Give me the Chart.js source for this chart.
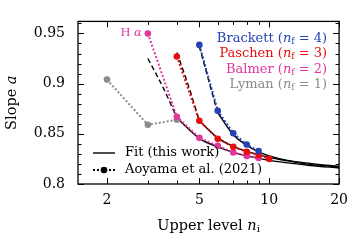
<!DOCTYPE html>
<html lang="en">
<head>
<meta charset="UTF-8">
<title>Slope a vs upper level</title>
<script src="https://cdn.jsdelivr.net/npm/chart.js"></script>
<style>
  body { margin: 0; background: #fff; }
</style>
</head>
<body>
<canvas id="slopeChart" width="356" height="240"></canvas>
<script>
// measured slopes (Aoyama et al. 2021), by upper level n_i
const lymanN = [2, 3, 4];
const lymanA = [0.904, 0.859, 0.864];
const balmerN = [3, 4, 5, 6, 7, 8, 9];
const balmerA = [0.950, 0.867, 0.846, 0.838, 0.8315, 0.828, 0.826];
const paschenN = [4, 5, 6, 7, 8, 9, 10];
const paschenA = [0.927, 0.863, 0.845, 0.837, 0.832, 0.829, 0.825];
const brackettN = [5, 6, 7, 8, 9];
const brackettA = [0.9386, 0.873, 0.8506, 0.8393, 0.8328];

// fit (this work): dashed part near n_f, solid part after
const balmerFitDashN = [3, 3.5, 4];
const balmerFitDashA = [0.925, 0.8955, 0.866];
const balmerFitN = [4, 5, 6, 7, 8, 10, 12, 15, 20];
const balmerFitA = [0.866, 0.8455, 0.837, 0.8315, 0.828, 0.8235, 0.821, 0.8185, 0.816];
const paschenFitDashN = [4, 4.5, 5];
const paschenFitDashA = [0.931, 0.897, 0.863];
const paschenFitN = [5, 6, 7, 8, 10, 12, 15, 20];
const paschenFitA = [0.863, 0.846, 0.8375, 0.8325, 0.8265, 0.823, 0.8195, 0.817];
const brackettFitDashN = [5, 5.5, 6];
const brackettFitDashA = [0.937, 0.902, 0.871];
const brackettFitN = [6, 7, 8, 9, 10, 12, 15, 20];
const brackettFitA = [0.871, 0.849, 0.8385, 0.832, 0.828, 0.8235, 0.8205, 0.8175];

const xTicks = [2, 5, 10, 20];
const xMinor = [3, 4, 6, 7, 8, 9];
const yTicks = [0.8, 0.85, 0.9, 0.95];
const yMinor = [0.81, 0.82, 0.83, 0.84, 0.86, 0.87, 0.88, 0.89, 0.91, 0.92, 0.93, 0.94, 0.96];

const seriesNames = ['Brackett', 'Paschen', 'Balmer', 'Lyman'];
const seriesNf = [4, 3, 2, 1];
const seriesColors = ['#2442b4', '#e50d0d', '#e0359a', '#8c8c8c'];

const SERIF = '"DejaVu Serif", serif';

function pts(xs, ys) {
    return xs.map((x, i) => ({ x: x, y: ys[i] }));
}

function measured(xs, ys, color) {
    return {
        data: pts(xs, ys),
        borderColor: color,
        backgroundColor: color,
        borderWidth: 2,
        borderDash: [2, 2],
        pointRadius: 3.3,
        pointBorderWidth: 0,
        tension: 0,
        order: 1
    };
}

function fit(xs, ys, dashed) {
    return {
        data: pts(xs, ys),
        borderColor: '#000',
        borderWidth: 1.4,
        borderDash: dashed ? [5, 3] : [],
        pointRadius: 0,
        cubicInterpolationMode: 'monotone',
        order: 2
    };
}

// draws text made of pieces (regular / italic / subscript)
function pieceWidth(ctx, pieces) {
    let w = 0;
    pieces.forEach(p => { ctx.font = p.f; w += ctx.measureText(p.t).width; });
    return w;
}
function drawPieces(ctx, pieces, x, y, align) {
    let cx = align === 'right' ? x - pieceWidth(ctx, pieces)
           : align === 'center' ? x - pieceWidth(ctx, pieces) / 2 : x;
    ctx.textAlign = 'left';
    pieces.forEach(p => {
        ctx.font = p.f;
        ctx.fillText(p.t, cx, y + (p.dy || 0));
        cx += ctx.measureText(p.t).width;
    });
}

const framePlugin = {
    id: 'frame',
    afterDraw(chart) {
        const ctx = chart.ctx;
        const a = chart.chartArea;
        const xs = chart.scales.x, ys = chart.scales.y;
        ctx.save();
        ctx.strokeStyle = '#000';
        ctx.lineWidth = 1.3;
        ctx.strokeRect(a.left, a.top, a.right - a.left, a.bottom - a.top);

        ctx.lineWidth = 1;
        ctx.beginPath();
        const xt = (v, len) => {
            const px = Math.round(xs.getPixelForValue(v)) + 0.5;
            ctx.moveTo(px, a.bottom); ctx.lineTo(px, a.bottom - len);
            ctx.moveTo(px, a.top); ctx.lineTo(px, a.top + len);
        };
        const yt = (v, len) => {
            const py = Math.round(ys.getPixelForValue(v)) + 0.5;
            ctx.moveTo(a.left, py); ctx.lineTo(a.left + len, py);
            ctx.moveTo(a.right, py); ctx.lineTo(a.right - len, py);
        };
        xTicks.forEach(v => xt(v, 6));
        xMinor.forEach(v => xt(v, 3.5));
        yTicks.forEach(v => yt(v, 6));
        yMinor.forEach(v => yt(v, 3.5));
        ctx.stroke();

        ctx.textBaseline = 'middle';
        ctx.fillStyle = '#000';

        // axis titles
        drawPieces(ctx, [
            { t: 'Upper level ', f: '14.5px ' + SERIF },
            { t: 'n', f: 'italic 14.5px ' + SERIF },
            { t: 'i', f: '10px ' + SERIF, dy: 3 }
        ], (a.left + a.right) / 2, 226, 'center');

        ctx.save();
        ctx.translate(12, (a.top + a.bottom) / 2);
        ctx.rotate(-Math.PI / 2);
        drawPieces(ctx, [
            { t: 'Slope ', f: '14.5px ' + SERIF },
            { t: 'a', f: 'italic 14.5px ' + SERIF }
        ], 0, 0, 'center');
        ctx.restore();

        // series legend, top right
        seriesNames.forEach((name, i) => {
            ctx.fillStyle = seriesColors[i];
            drawPieces(ctx, [
                { t: name + ' (', f: '13px ' + SERIF },
                { t: 'n', f: 'italic 13px ' + SERIF },
                { t: 'f', f: '9px ' + SERIF, dy: 3 },
                { t: ' = ' + seriesNf[i] + ')', f: '13px ' + SERIF }
            ], a.right - 12, a.top + 17 + i * 15.5, 'right');
        });

        // H alpha label
        ctx.fillStyle = seriesColors[2];
        drawPieces(ctx, [
            { t: 'H ', f: '11.5px ' + SERIF },
            { t: 'α', f: 'italic 11.5px ' + SERIF }
        ], xs.getPixelForValue(balmerN[0]) - 6, ys.getPixelForValue(balmerA[0]), 'right');

        // style legend, bottom left
        const lx = a.left + 15, ly1 = a.bottom - 31, ly2 = a.bottom - 14;
        ctx.strokeStyle = '#000';
        ctx.lineWidth = 1.4;
        ctx.beginPath();
        ctx.moveTo(lx, ly1); ctx.lineTo(lx + 22, ly1);
        ctx.stroke();
        ctx.lineWidth = 2;
        ctx.setLineDash([2, 2]);
        ctx.beginPath();
        ctx.moveTo(lx, ly2); ctx.lineTo(lx + 22, ly2);
        ctx.stroke();
        ctx.setLineDash([]);
        ctx.fillStyle = '#000';
        ctx.beginPath();
        ctx.arc(lx + 11, ly2, 3.3, 0, Math.PI * 2);
        ctx.fill();
        ctx.font = '13px ' + SERIF;
        ctx.textAlign = 'left';
        ctx.fillText('Fit (this work)', lx + 32, ly1);
        ctx.fillText('Aoyama et al. (2021)', lx + 32, ly2);
        ctx.restore();
    }
};

new Chart(document.getElementById('slopeChart').getContext('2d'), {
    type: 'line',
    data: {
        datasets: [
            measured(brackettN, brackettA, seriesColors[0]),
            measured(paschenN, paschenA, seriesColors[1]),
            measured(balmerN, balmerA, seriesColors[2]),
            measured(lymanN, lymanA, seriesColors[3]),
            fit(balmerFitDashN, balmerFitDashA, true),
            fit(balmerFitN, balmerFitA, false),
            fit(paschenFitDashN, paschenFitDashA, true),
            fit(paschenFitN, paschenFitA, false),
            fit(brackettFitDashN, brackettFitDashA, true),
            fit(brackettFitN, brackettFitA, false)
        ]
    },
    options: {
        responsive: false,
        animation: false,
        devicePixelRatio: 1,
        layout: { padding: { top: 17, right: 16, left: 0, bottom: 0 } },
        plugins: { legend: { display: false }, tooltip: { enabled: false } },
        scales: {
            x: {
                type: 'logarithmic',
                min: 1.5,
                max: 20,
                grid: { display: false, drawTicks: false },
                border: { display: false },
                afterBuildTicks: s => { s.ticks = xTicks.map(v => ({ value: v })); },
                afterFit: s => { s.height = 56; },
                ticks: {
                    autoSkip: false,
                    maxRotation: 0,
                    padding: 8,
                    color: '#000',
                    font: { family: SERIF, size: 14 },
                    callback: v => String(v)
                }
            },
            y: {
                type: 'linear',
                min: 0.8,
                max: 0.962,
                grid: { display: false, drawTicks: false },
                border: { display: false },
                afterBuildTicks: s => { s.ticks = yTicks.map(v => ({ value: v })); },
                afterFit: s => { s.width = 78; },
                ticks: {
                    padding: 13,
                    color: '#000',
                    font: { family: SERIF, size: 14 },
                    callback: v => String(v)
                }
            }
        }
    },
    plugins: [framePlugin]
});
</script>
</body>
</html>
